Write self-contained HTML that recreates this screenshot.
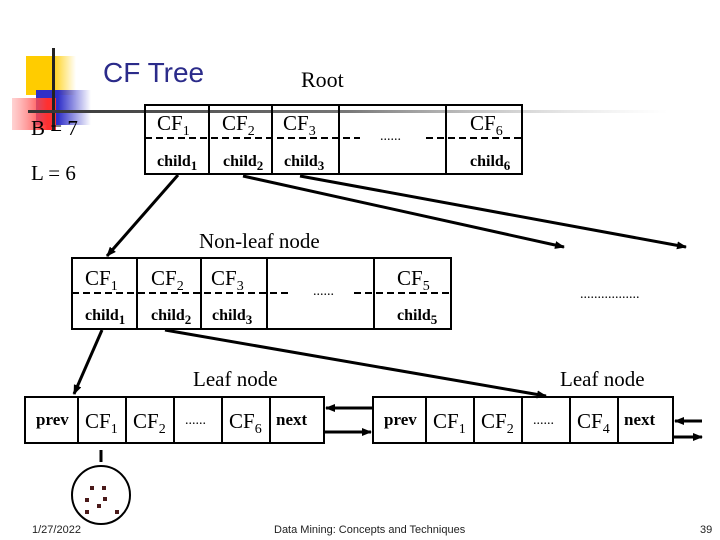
<!DOCTYPE html>
<html><head><meta charset="utf-8"><style>
body{margin:0;background:#fff}
svg{display:block}
.t{font-family:"Liberation Serif",serif;fill:#000}
</style></head><body>
<svg width="720" height="540" viewBox="0 0 720 540" xmlns="http://www.w3.org/2000/svg">
<defs>
<linearGradient id="gy" x1="0" x2="1"><stop offset="0.5" stop-color="#ffcc00"/><stop offset="1" stop-color="#ffcc00" stop-opacity="0"/></linearGradient>
<linearGradient id="gb" x1="0" x2="1"><stop offset="0.4" stop-color="#2f2fc8"/><stop offset="1" stop-color="#2f2fc8" stop-opacity="0"/></linearGradient>
<linearGradient id="gr" x1="0" x2="1"><stop offset="0" stop-color="#ff9090" stop-opacity="0.4"/><stop offset="0.8" stop-color="#ff3030"/></linearGradient>
<linearGradient id="gl" x1="0" x2="1"><stop offset="0" stop-color="#333"/><stop offset="0.5" stop-color="#777"/><stop offset="1" stop-color="#ccc" stop-opacity="0"/></linearGradient>
<marker id="a" markerWidth="10" markerHeight="8" refX="9" refY="4" orient="auto" markerUnits="userSpaceOnUse"><path d="M0,0 L10,4 L0,8 z" fill="#000"/></marker>
</defs>
<rect x="26" y="56" width="50" height="39" fill="url(#gy)"/>
<rect x="36" y="90" width="55" height="35" fill="url(#gb)"/>
<rect x="12" y="98" width="44" height="32" fill="url(#gr)"/>
<rect x="52" y="48" width="3" height="82" fill="#222"/>
<rect x="28" y="110" width="640" height="3" fill="url(#gl)"/>
<text x="103" y="82" font-family="Liberation Sans,sans-serif" font-size="28" fill="#2b2b8a">CF Tree</text>
<text class="t" x="301" y="87" font-size="22">Root</text>
<text class="t" x="31" y="135" font-size="21">B = 7</text>
<text class="t" x="31" y="180" font-size="21">L = 6</text>

<g stroke="#000" stroke-width="2" fill="none">
<rect x="145" y="105" width="377" height="69"/>
<line x1="209" y1="105" x2="209" y2="174"/><line x1="272" y1="105" x2="272" y2="174"/><line x1="339" y1="105" x2="339" y2="174"/><line x1="446" y1="105" x2="446" y2="174"/>
<line x1="145" y1="138" x2="360" y2="138" stroke-dasharray="7,4"/><line x1="426" y1="138" x2="522" y2="138" stroke-dasharray="7,4"/>

<rect x="72" y="258" width="379" height="71"/>
<line x1="137" y1="258" x2="137" y2="329"/><line x1="201" y1="258" x2="201" y2="329"/><line x1="267" y1="258" x2="267" y2="329"/><line x1="374" y1="258" x2="374" y2="329"/>
<line x1="72" y1="293" x2="288" y2="293" stroke-dasharray="7,4"/><line x1="354" y1="293" x2="451" y2="293" stroke-dasharray="7,4"/>

<rect x="25" y="397" width="299" height="46"/>
<line x1="78" y1="397" x2="78" y2="443"/><line x1="126" y1="397" x2="126" y2="443"/><line x1="174" y1="397" x2="174" y2="443"/><line x1="222" y1="397" x2="222" y2="443"/><line x1="270" y1="397" x2="270" y2="443"/>
<rect x="373" y="397" width="300" height="46"/>
<line x1="426" y1="397" x2="426" y2="443"/><line x1="474" y1="397" x2="474" y2="443"/><line x1="522" y1="397" x2="522" y2="443"/><line x1="570" y1="397" x2="570" y2="443"/><line x1="618" y1="397" x2="618" y2="443"/>
</g>
<g stroke="#000" stroke-width="3" fill="none">
<line x1="178" y1="175" x2="107" y2="256" marker-end="url(#a)"/>
<line x1="243" y1="176" x2="564" y2="247" marker-end="url(#a)"/>
<line x1="300" y1="176" x2="686" y2="247" marker-end="url(#a)"/>
<line x1="102" y1="330" x2="74" y2="394" marker-end="url(#a)"/>
<line x1="165" y1="330" x2="546" y2="396" marker-end="url(#a)"/>
<line x1="373" y1="408" x2="326" y2="408" marker-end="url(#a)"/>
<line x1="324" y1="432" x2="371" y2="432" marker-end="url(#a)"/>
<line x1="702" y1="421" x2="675" y2="421" marker-end="url(#a)"/>
<line x1="673" y1="437" x2="702" y2="437" marker-end="url(#a)"/>
<line x1="101" y1="450" x2="101" y2="462"/>
</g>
<circle cx="101" cy="495" r="29" fill="none" stroke="#000" stroke-width="2"/>
<g fill="#4a1a1a"><rect x="90" y="486" width="4" height="4"/><rect x="102" y="486" width="4" height="4"/><rect x="85" y="498" width="4" height="4"/><rect x="103" y="497" width="4" height="4"/><rect x="97" y="504" width="4" height="4"/><rect x="85" y="510" width="4" height="4"/><rect x="115" y="510" width="4" height="4"/></g>

<g class="t" font-size="21">
<text x="157" y="130">CF<tspan font-size="14" dy="5">1</tspan></text>
<text x="222" y="130">CF<tspan font-size="14" dy="5">2</tspan></text>
<text x="283" y="130">CF<tspan font-size="14" dy="5">3</tspan></text>
<text x="470" y="130">CF<tspan font-size="14" dy="5">6</tspan></text>
<text x="380" y="140" font-size="14">......</text>
<text x="157" y="166" font-size="16" font-weight="bold">child<tspan font-size="13" dy="4">1</tspan></text>
<text x="223" y="166" font-size="16" font-weight="bold">child<tspan font-size="13" dy="4">2</tspan></text>
<text x="284" y="166" font-size="16" font-weight="bold">child<tspan font-size="13" dy="4">3</tspan></text>
<text x="470" y="166" font-size="16" font-weight="bold">child<tspan font-size="13" dy="4">6</tspan></text>
<text x="199" y="248">Non-leaf node</text>
<text x="85" y="285">CF<tspan font-size="14" dy="5">1</tspan></text>
<text x="151" y="285">CF<tspan font-size="14" dy="5">2</tspan></text>
<text x="211" y="285">CF<tspan font-size="14" dy="5">3</tspan></text>
<text x="397" y="285">CF<tspan font-size="14" dy="5">5</tspan></text>
<text x="313" y="295" font-size="14">......</text>
<text x="580" y="298" font-size="14">.................</text>
<text x="85" y="320" font-size="16" font-weight="bold">child<tspan font-size="13" dy="4">1</tspan></text>
<text x="151" y="320" font-size="16" font-weight="bold">child<tspan font-size="13" dy="4">2</tspan></text>
<text x="212" y="320" font-size="16" font-weight="bold">child<tspan font-size="13" dy="4">3</tspan></text>
<text x="397" y="320" font-size="16" font-weight="bold">child<tspan font-size="13" dy="4">5</tspan></text>
<text x="193" y="386">Leaf node</text>
<text x="560" y="386">Leaf node</text>
<text x="36" y="425" font-size="17" font-weight="bold">prev</text>
<text x="85" y="428">CF<tspan font-size="14" dy="5">1</tspan></text>
<text x="133" y="428">CF<tspan font-size="14" dy="5">2</tspan></text>
<text x="185" y="424" font-size="14">......</text>
<text x="229" y="428">CF<tspan font-size="14" dy="5">6</tspan></text>
<text x="276" y="425" font-size="17" font-weight="bold">next</text>
<text x="384" y="425" font-size="17" font-weight="bold">prev</text>
<text x="433" y="428">CF<tspan font-size="14" dy="5">1</tspan></text>
<text x="481" y="428">CF<tspan font-size="14" dy="5">2</tspan></text>
<text x="533" y="424" font-size="14">......</text>
<text x="577" y="428">CF<tspan font-size="14" dy="5">4</tspan></text>
<text x="624" y="425" font-size="17" font-weight="bold">next</text>
</g>
<g font-family="Liberation Sans,sans-serif" font-size="11" fill="#222">
<text x="32" y="533">1/27/2022</text>
<text x="274" y="533">Data Mining: Concepts and Techniques</text>
<text x="700" y="533">39</text>
</g>
</svg>
</body></html>
